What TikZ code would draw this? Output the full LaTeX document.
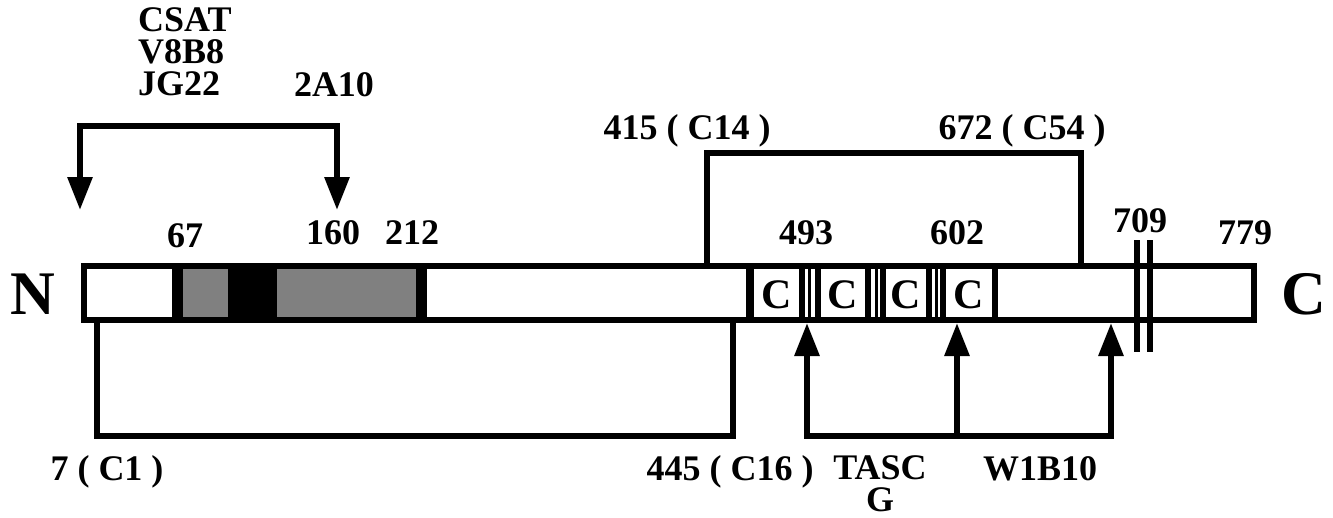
\documentclass[tikz,border=0pt]{standalone}
\usepackage{fontspec}
\setmainfont{Liberation Serif}
\usetikzlibrary{arrows.meta}
\begin{document}
\begin{tikzpicture}[x=1pt,y=-1pt,
  lbl/.style={font=\fontsize{36}{32}\selectfont\bfseries, inner sep=0pt},
  cbox/.style={font=\fontsize{42}{44}\selectfont\bfseries, inner sep=0pt},
  big/.style={font=\fontsize{62}{66}\selectfont\bfseries, inner sep=0pt},
  conn/.style={line width=6pt},
  arr/.style={conn,-{Triangle[length=33pt,width=24pt]}},
  sep/.style={line width=6pt},
  thinsep/.style={line width=3pt},
  stip/.style={fill=black!50}]
\useasboundingbox (0,0) rectangle (1333,517);
% shaded domains
\fill (172,263) rectangle (427,323);
\fill[stip] (183,269) rectangle (228,317);
\fill[stip] (277,269) rectangle (416,317);
% bar
\node (bar) [draw, line width=6pt, minimum width=1170pt, minimum height=54pt, inner sep=0pt] at (669,293) {};
% separators
\draw[line width=8pt] (750,266) -- (750,320);
\draw[sep] (802,266) -- (802,320);
\draw[thinsep] (809,266) -- (809,320);
\draw[sep] (818,266) -- (818,320);
\draw[sep] (868,266) -- (868,320);
\draw[thinsep] (876,266) -- (876,320);
\draw[sep] (883,266) -- (883,320);
\draw[sep] (929,266) -- (929,320);
\draw[thinsep] (936,266) -- (936,320);
\draw[sep] (943,266) -- (943,320);
\draw[sep] (995,266) -- (995,320);
\draw[conn] (1137,240) -- (1137,352);
\draw[conn] (1150,240) -- (1150,352);
% C boxes
\node[cbox] (c1) at (777,295) {C};
\node[cbox] (c2) at (843,295) {C};
\node[cbox] (c3) at (906,295) {C};
\node[cbox] (c4) at (969,295) {C};
% ends
\node[big] (N) at (33,294) {N};
\node[big] (Cend) at (1304,294) {C};
% top left antibodies
\node[lbl, anchor=north west, align=left] (abs) at (138,7) {CSAT\\V8B8\\JG22};
\node[lbl, anchor=base] (a2a10) at (334,96) {2A10};
\coordinate (tl) at (80,126);
\coordinate (tr) at (337,126);
\coordinate (tlTip) at (80,210);
\coordinate (trTip) at (337,210);
\draw[conn, line cap=rect] (tl) -- (tr);
\draw[arr] (tl) -- (tlTip);
\draw[arr] (tr) -- (trTip);
% numbers
\node[lbl, anchor=base] (n67) at (185,247) {67};
\node[lbl, anchor=base] (n160) at (333,244) {160};
\node[lbl, anchor=base] (n212) at (412,244) {212};
\node[lbl, anchor=base] (n493) at (806,244) {493};
\node[lbl, anchor=base] (n602) at (957,244) {602};
\node[lbl, anchor=base] (n709) at (1140,232) {709};
\node[lbl, anchor=base] (n779) at (1245,244) {779};
% top box C14-C54
\node[lbl, anchor=base] (c14) at (687,139) {415 ( C14 )};
\node[lbl, anchor=base] (c54) at (1022,139) {672 ( C54 )};
\coordinate (b1) at (707,263);
\coordinate (b2) at (707,153);
\coordinate (b3) at (1081,153);
\coordinate (b4) at (1081,263);
\draw[conn] (b1) -- (b2) -- (b3) -- (b4);
% bottom box C1-C16
\coordinate (d1) at (97,323);
\coordinate (d2) at (97,436);
\coordinate (d3) at (733,436);
\coordinate (d4) at (733,323);
\draw[conn] (d1) -- (d2) -- (d3) -- (d4);
\node[lbl, anchor=base] (c1lbl) at (107,480) {7 ( C1 )};
\node[lbl, anchor=base] (c16) at (730,480) {445 ( C16 )};
% bottom arrows TASC G / W1B10
\coordinate (e1) at (807,436);
\coordinate (e2) at (957,436);
\coordinate (e3) at (1111,436);
\coordinate (e1t) at (807,323);
\coordinate (e2t) at (957,323);
\coordinate (e3t) at (1111,323);
\draw[conn, line cap=rect] (e1) -- (e3);
\draw[arr] (e1) -- (e1t);
\draw[arr] (e2) -- (e2t);
\draw[arr] (e3) -- (e3t);
\node[lbl, anchor=north, align=center] (tasc) at (880,455) {TASC\\G};
\node[lbl, anchor=base] (w1b10) at (1040,480) {W1B10};
\end{tikzpicture}
\end{document}
